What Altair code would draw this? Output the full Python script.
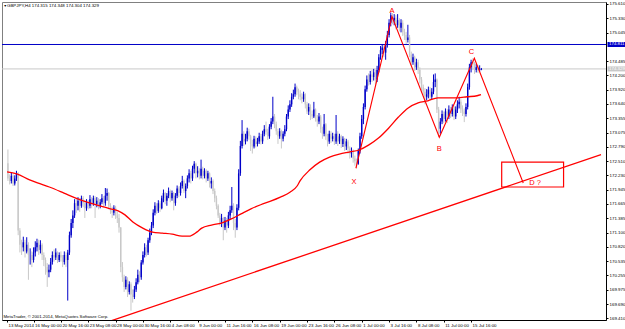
import altair as alt
import pandas as pd

# ---------------- data ----------------
first_open = 172.47
closes = [
172.17,172.12,172.22,172.07,172.17,172.27,171.14,170.86,170.81,170.91,
170.73,170.86,170.66,170.66,170.56,170.71,170.81,170.90,170.76,170.86,
170.66,170.56,170.42,170.32,170.37,170.52,170.66,170.61,170.71,170.56,
170.66,170.61,170.52,170.66,170.56,170.71,171.05,171.29,171.44,171.68,
171.63,171.73,171.63,171.78,171.68,171.58,171.70,171.63,171.76,171.68,
171.78,171.66,171.73,171.63,171.70,171.78,171.68,171.83,171.88,171.63,
171.54,171.49,171.59,171.44,171.39,171.20,170.42,170.22,170.03,170.17,
169.93,170.08,169.88,169.83,169.98,170.12,170.27,170.22,170.51,170.66,
170.81,170.71,170.95,171.10,171.24,171.49,171.63,171.53,171.68,171.58,
171.78,171.88,171.73,171.83,171.92,171.78,171.88,171.68,171.83,171.97,
171.88,172.02,172.12,171.92,172.02,172.17,172.27,172.17,172.36,172.46,
172.27,172.32,172.22,172.36,172.22,172.32,172.17,172.27,172.07,172.12,
171.92,171.78,171.63,171.44,171.29,171.39,171.20,171.34,171.24,171.44,
171.54,171.63,171.29,171.20,171.59,172.27,172.81,173.05,172.90,172.95,
173.10,173.00,172.85,172.80,172.95,172.85,172.90,173.00,172.90,173.05,
173.14,173.09,173.00,173.19,173.29,173.39,173.24,173.10,173.00,173.10,
172.95,173.05,173.14,173.39,173.53,173.63,173.78,173.83,173.97,173.88,
173.83,173.78,173.73,173.83,173.63,173.49,173.58,173.44,173.39,173.53,
173.34,173.29,173.39,173.14,173.05,173.24,173.00,172.90,173.05,172.95,
173.00,172.90,173.05,172.90,173.00,172.85,172.95,172.80,172.90,172.76,
172.66,172.71,172.56,172.51,172.46,172.71,173.00,173.34,173.58,173.93,
174.12,174.07,174.22,174.17,174.26,174.12,174.31,174.56,174.70,174.75,
174.65,174.80,175.00,175.24,175.39,175.29,175.34,175.19,175.29,175.14,
175.24,175.05,175.00,174.90,174.95,174.61,174.46,174.56,174.36,174.46,
174.31,174.12,173.97,173.88,173.78,173.83,173.92,173.78,173.88,174.07,
174.12,173.53,173.15,173.29,173.44,173.34,173.49,173.39,173.53,173.44,
173.58,173.39,173.53,173.63,173.68,173.53,173.49,173.44,173.58,173.97,
174.36,174.46,174.41,174.31,174.36,174.31,174.315,174.329,
]
highs = [
172.74,172.25,172.29,172.25,172.23,172.32,172.29,171.19,170.96,171.02,
170.96,171.01,170.91,170.79,170.73,170.81,170.93,170.98,170.96,170.95,
170.89,170.71,170.61,170.50,170.47,170.60,170.73,170.77,170.79,170.73,
170.71,170.73,170.66,170.73,170.71,170.76,171.12,171.37,171.54,171.76,
171.78,171.80,171.78,171.83,171.82,171.74,171.76,171.74,171.84,171.80,
171.83,171.82,171.80,171.78,171.76,171.86,171.82,171.98,171.97,171.90,
171.68,171.61,171.64,171.63,171.51,171.47,171.21,170.52,170.27,170.24,
170.22,170.14,170.12,169.98,170.05,170.20,170.37,170.34,170.56,170.73,
170.89,170.86,171.00,171.18,171.31,171.56,171.70,171.68,171.74,171.72,
171.83,171.95,171.90,171.88,171.99,171.95,171.93,171.90,171.88,172.03,
172.01,172.09,172.22,172.15,172.07,172.23,172.35,172.32,172.42,172.51,
172.48,172.41,172.37,172.54,172.40,172.37,172.35,172.32,172.29,172.19,
172.15,171.97,171.83,171.66,171.49,171.47,171.41,171.41,171.39,171.51,
171.63,172.00,171.68,171.37,171.66,172.35,172.91,173.32,173.10,173.05,
173.17,173.15,173.03,172.93,173.01,173.00,172.97,173.07,173.05,173.11,
173.22,173.29,173.15,173.24,173.36,173.78,173.44,173.29,173.15,173.16,
173.13,173.10,173.22,173.44,173.61,173.71,173.85,173.92,174.04,174.00,
173.94,173.91,173.85,173.88,173.85,173.68,173.65,173.63,173.51,173.68,
173.55,173.42,173.46,173.42,173.19,173.44,173.26,173.05,173.11,173.10,
173.07,173.05,173.42,173.10,173.05,173.03,173.00,172.97,172.95,172.93,
172.80,172.78,172.74,172.62,172.56,172.76,173.07,173.42,173.65,174.00,
174.20,174.24,174.29,174.31,174.33,174.31,174.39,174.62,174.78,174.82,
174.80,174.88,175.08,175.31,175.44,175.43,175.41,175.39,175.41,175.33,
175.31,175.29,175.12,175.06,175.20,175.00,174.67,174.63,174.59,174.53,
174.51,174.36,174.17,174.02,173.95,173.93,173.98,173.97,173.95,174.22,
174.24,174.14,173.58,173.36,173.51,173.49,173.55,173.54,173.61,173.58,
173.63,173.61,173.59,173.71,173.78,173.73,173.61,173.55,173.65,174.04,
174.43,174.51,174.54,174.47,174.43,174.41,174.40,174.348,
]
lows = [
172.12,172.05,172.07,172.02,172.03,172.12,171.05,170.71,170.66,170.73,
170.61,170.69,170.17,170.47,170.42,170.51,170.63,170.73,170.66,170.69,
170.56,170.44,170.27,170.03,170.22,170.32,170.47,170.53,170.56,170.50,
170.52,170.53,170.42,170.47,170.42,169.76,170.66,171.00,171.19,171.39,
171.49,171.54,171.51,171.59,171.60,171.39,171.53,171.56,171.58,171.58,
171.63,171.39,171.60,171.56,171.58,171.66,171.60,171.63,171.73,171.56,
171.47,171.39,171.44,171.37,171.29,171.10,170.32,170.13,169.93,169.98,
169.83,169.88,169.56,169.72,169.79,169.93,170.08,170.12,170.17,170.47,
170.61,170.63,170.66,170.90,171.05,171.19,171.44,171.47,171.49,171.51,
171.56,171.70,171.66,171.63,171.78,171.70,171.73,171.54,171.63,171.78,
171.80,171.83,171.97,171.88,171.78,171.97,172.09,172.07,172.12,172.27,
172.17,172.19,172.15,172.17,172.15,172.17,172.09,172.12,171.99,171.97,
171.86,171.70,171.56,171.39,171.24,171.21,170.95,171.15,171.10,171.19,
171.37,171.49,171.15,171.00,171.15,171.54,172.22,172.76,172.81,172.84,
172.90,172.93,172.71,172.66,172.76,172.78,172.80,172.85,172.84,172.85,
173.00,173.03,172.93,172.95,173.14,173.24,173.16,173.03,172.85,172.95,
172.76,172.90,173.00,173.10,173.34,173.48,173.58,173.73,173.78,173.81,
173.73,173.71,173.65,173.68,173.55,173.44,173.42,173.32,173.34,173.36,
173.29,173.19,173.24,173.07,172.95,173.00,172.93,172.80,172.85,172.87,
172.90,172.83,172.85,172.81,172.85,172.77,172.79,172.71,172.73,172.66,
172.56,172.58,172.48,172.42,172.37,172.44,172.66,172.95,173.24,173.53,
173.88,174.00,174.02,174.07,174.10,174.02,174.07,174.26,174.51,174.62,
174.56,174.51,174.75,174.95,175.17,175.21,175.19,175.11,175.14,175.07,
175.05,174.98,174.90,174.82,174.85,174.56,174.39,174.41,174.29,174.31,
174.23,174.04,173.90,173.81,173.63,173.71,173.75,173.71,173.73,173.83,
173.97,173.46,172.99,173.05,173.24,173.26,173.29,173.26,173.34,173.36,
173.39,173.32,173.34,173.46,173.55,173.46,173.40,173.28,173.39,173.53,
173.92,174.26,174.31,174.23,174.26,174.25,174.27,174.304,
]

# moving average (red curve), sampled along the picture
ma_i = [-0.5,5.2,12.7,17.3,24.2,32.8,39.7,47.2,55.9,59.9,64.5,68.5,73.1,78.9,84.6,90.4,96.1,
        101.9,105.9,110.5,113.4,119.1,124.9,130.7,136.4,142.2,147.9,153.7,159.4,165.2,169.2,
        170.9,176.7,182.4,188.2,193.9,199.7,205.5,211.2,217.0,222.7,228.5,234.2,240.0,245.7,
        251.5,257.2,263.0,268.7,274.5,276.8]
ma_p = [172.30,172.26,172.14,172.08,172.00,171.88,171.78,171.69,171.61,171.57,171.53,171.45,
        171.31,171.19,171.11,171.09,171.07,171.03,171.03,171.11,171.19,171.25,171.29,171.37,
        171.47,171.57,171.65,171.72,171.80,171.90,172.02,172.12,172.34,172.49,172.59,172.65,
        172.69,172.73,172.83,172.97,173.16,173.38,173.56,173.66,173.70,173.76,173.76,173.76,
        173.78,173.80,173.82]

# XABCD pattern
pat_name = ["X", "A", "B", "C", "D ?"]
pat_i = [203.6, 224.7, 252.4, 272.9, 301.5]
pat_p = [172.37, 175.36, 172.98, 174.54, 172.08]

# trend line
tr_i = [55.0, 347.0]
tr_p = [169.30, 172.64]

# target box
box_i = [288.9, 325.1]
box_p = [172.00, 172.49]

# horizontal levels
blue_level = 174.811
bid_level = 174.329

# axis ticks (174.765 sits under the blue price tag)
y_ticks = [175.610,175.330,175.045,174.485,174.200,173.920,173.640,173.355,173.075,
           172.790,172.510,172.230,171.945,171.665,171.385,171.100,170.820,170.535,170.255,
           169.975,169.690,169.410]
x_first_label = "13 May 2014"
x_tick_idx = [15,31,47,63,79,95,111,127,143,159,175,191,207,223,239,255,271]
x_tick_lab = ["16 May 00:00","20 May 16:00","23 May 08:00","28 May 00:00","30 May 16:00",
              "4 Jun 08:00","9 Jun 00:00","11 Jun 16:00","16 Jun 08:00","19 Jun 00:00",
              "23 Jun 16:00","26 Jun 08:00","1 Jul 00:00","3 Jul 16:00","8 Jul 08:00",
              "11 Jul 00:00","15 Jul 16:00"]

header = "GBPJPY,H4  174.315 174.348 174.304 174.329"
copyright_txt = "MetaTrader, \u00a9 2001-2014, MetaQuotes Software Corp."

# ---------------- build tables ----------------
n = len(closes)
opens = [first_open] + closes[:-1]
candles = pd.DataFrame({"i": list(range(n)), "open": opens, "close": closes,
                        "high": highs, "low": lows})
candles["dir"] = ["up" if c >= o else "down" for o, c in zip(opens, closes)]
ma_df = pd.DataFrame({"i": ma_i, "p": ma_p})
pat_df = pd.DataFrame({"name": pat_name, "i": pat_i, "p": pat_p, "k": list(range(len(pat_i)))})
tr_df = pd.DataFrame({"i": tr_i, "p": tr_p})
box_df = pd.DataFrame({"i": [box_i[0]], "i2": [box_i[1]], "p": [box_p[0]], "p2": [box_p[1]]})
lvl_df = pd.DataFrame({"p": [blue_level, bid_level],
                       "lab": [f"{blue_level:.3f}", f"{bid_level:.3f}"],
                       "kind": ["blue", "bid"]})

FONT = "Liberation Sans"
W, H = 604, 318
xs = alt.Scale(domain=[-0.54, 347.0], nice=False, zero=False)
ys = alt.Scale(domain=[169.377, 175.649], nice=False, zero=False)

lab_arr = "[" + ",".join("'" + s + "'" for s in x_tick_lab) + "]"
xax = alt.Axis(values=[-0.54] + x_tick_idx,
               labelExpr=f"datum.value < 0 ? '{x_first_label}' : {lab_arr}[round((datum.value - 15) / 16)]",
               labelAlign="left", labelBaseline="top", labelFont=FONT, labelFontSize=4.4,
               labelColor="#000", labelPadding=1.5, labelOffset=1, labelFlush=False,
               labelBound=False, labelOverlap=False, tickSize=2, tickColor="#000",
               domainColor="#000", grid=False, orient="bottom")
yax = alt.Axis(values=y_ticks, format=".3f", orient="right", labelFont=FONT,
               labelFontSize=4.4, labelColor="#000", labelPadding=1, labelBaseline="middle",
               labelOverlap=False, labelFlush=False, labelBound=False, tickSize=2,
               tickColor="#000", domainColor="#000", grid=False)

X = lambda f: alt.X(f, type="quantitative", scale=xs, axis=xax, title=None)
Y = lambda f: alt.Y(f, type="quantitative", scale=ys, axis=yax, title=None)

base = alt.Chart(candles)
wicks = base.mark_rule(strokeWidth=1).encode(
    x=X("i"), y=Y("low"), y2="high",
    color=alt.Color("dir:N", scale=alt.Scale(domain=["up", "down"], range=["#4a4a4a", "#111111"]),
                    legend=None))
bodies = base.mark_bar(size=1.4).encode(
    x=X("i"), y=Y("open"), y2="close",
    color=alt.Color("dir:N", scale=alt.Scale(domain=["up", "down"], range=["#7c7c7c", "#000000"]),
                    legend=None))

levels = alt.Chart(lvl_df).mark_rule(strokeWidth=1).encode(
    y=Y("p"),
    color=alt.Color("kind:N", scale=alt.Scale(domain=["blue", "bid"], range=["#0000c8", "#c8c8c8"]),
                    legend=None))

ma = alt.Chart(ma_df).mark_line(color="#ff0000", strokeWidth=1.3, interpolate="monotone").encode(
    x=X("i"), y=Y("p"))
trend = alt.Chart(tr_df).mark_line(color="#ff0000", strokeWidth=1.3, clip=True).encode(
    x=X("i"), y=Y("p"))
pattern = alt.Chart(pat_df).mark_line(color="#ff0000", strokeWidth=1.1).encode(
    x=X("i"), y=Y("p"), order="k:Q")
box = alt.Chart(box_df).mark_rect(fillOpacity=0, stroke="#ff0000", strokeWidth=1.2).encode(
    x=X("i"), x2="i2", y=Y("p"), y2="p2")

pat_labels = []
for name, dx, dy, align in [("X", -2, 14, "center"), ("A", 0, -6, "center"),
                            ("B", 0, 12, "center"), ("C", -3, -6, "center"),
                            ("D ?", 6, 0, "left")]:
    pat_labels.append(
        alt.Chart(pat_df).transform_filter(alt.datum.name == name)
        .mark_text(color="#ff0000", font=FONT, fontSize=7.5, dx=dx, dy=dy, align=align,
                   baseline="middle")
        .encode(x=X("i"), y=Y("p"), text="name:N"))

# price tags on the right axis
tags = alt.Chart(lvl_df).mark_rule(strokeWidth=5).encode(
    y=Y("p"), x=alt.value(605.5), x2=alt.value(623),
    color=alt.Color("kind:N", scale=alt.Scale(domain=["blue", "bid"], range=["#0000c8", "#000000"]),
                    legend=None))
tag_text = alt.Chart(lvl_df).mark_text(color="white", font=FONT, fontSize=4.4, align="left",
                                       baseline="middle").encode(
    y=Y("p"), x=alt.value(607), text="lab:N")

txt_df = pd.DataFrame({"t": [header, copyright_txt, "\u25bc"]})
head = alt.Chart(txt_df).transform_filter(alt.datum.t == header).mark_text(
    font=FONT, fontSize=4.4, color="#000", align="left", baseline="middle").encode(
    x=alt.value(5), y=alt.value(3.5), text="t:N")
tri = alt.Chart(txt_df).transform_filter(alt.datum.t == "\u25bc").mark_text(
    font=FONT, fontSize=3.5, color="#000", align="left", baseline="middle").encode(
    x=alt.value(1.5), y=alt.value(3.5), text="t:N")
copy = alt.Chart(txt_df).transform_filter(alt.datum.t == copyright_txt).mark_text(
    font=FONT, fontSize=4.3, color="#000", align="left", baseline="middle").encode(
    x=alt.value(1.5), y=alt.value(315), text="t:N")

chart = alt.layer(levels, wicks, bodies, ma, trend, pattern, box, *pat_labels,
                  tags, tag_text, head, tri, copy).properties(
    width=W, height=H,
    autosize=alt.AutoSizeParams(type="none"),
    padding={"left": 2, "top": 2, "right": 19, "bottom": 9},
    background="white",
).configure_view(stroke="#808080", strokeWidth=1)

chart.save("out.html", embed_options={"renderer": "svg", "actions": False})
